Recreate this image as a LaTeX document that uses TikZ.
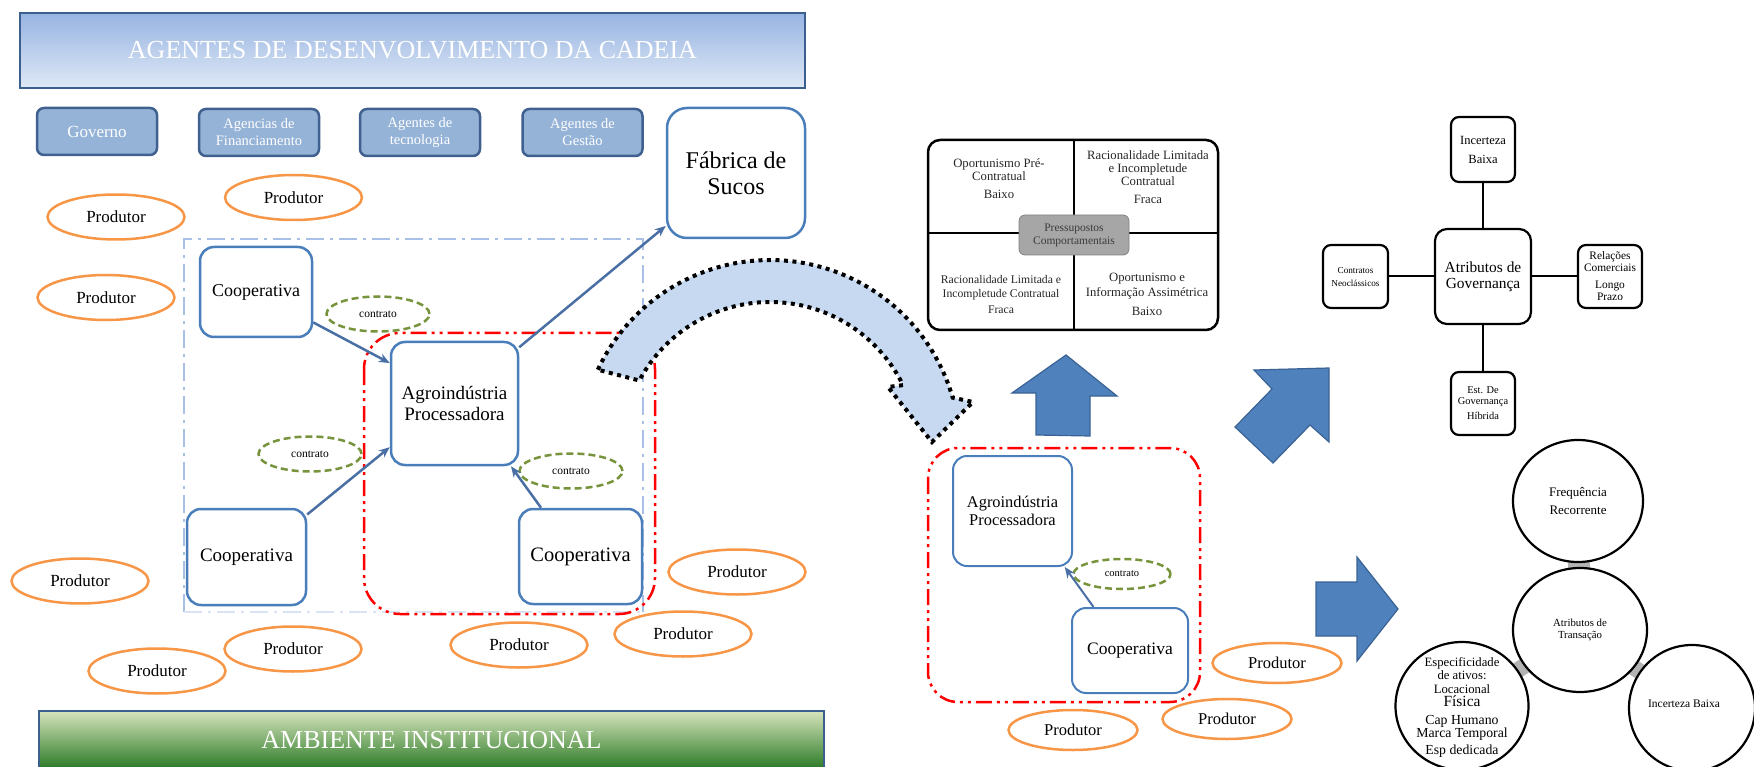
\documentclass[tikz,border=0pt]{standalone}
\usepackage{fontspec}
\setmainfont{Liberation Serif}
\usetikzlibrary{shapes.geometric,arrows.meta,backgrounds}
\newcommand\myfs[2]{\fontsize{#1}{#2}\selectfont}
\definecolor{bnborder}{HTML}{3B5F8F}
\definecolor{bntop}{HTML}{97B4E2}
\definecolor{bnbot}{HTML}{DFE8F5}
\definecolor{tbfill}{HTML}{95B3D7}
\definecolor{tbdraw}{HTML}{40618F}
\definecolor{bxdraw}{HTML}{4A7EBB}
\definecolor{orng}{HTML}{F79646}
\definecolor{olv}{HTML}{77933C}
\definecolor{cnn}{HTML}{4A6FA5}
\definecolor{ltblue}{HTML}{A9C0E6}
\definecolor{ltblueb}{HTML}{DAE3F3}
\definecolor{arwfill}{HTML}{4F81BD}
\definecolor{arwdraw}{HTML}{3A6294}
\definecolor{curvfill}{HTML}{C6D9F1}
\definecolor{grntop}{HTML}{D7E4BD}
\definecolor{grnbot}{HTML}{2A7A25}
\definecolor{qtext}{HTML}{262626}
\definecolor{grayarw}{HTML}{A6A6A6}
\definecolor{grayarwl}{HTML}{B4B4B4}
\tikzset{
 banner/.style={draw=bnborder, line width=2.5pt, text=white, inner sep=0pt, font=\myfs{26}{30}},
 topbox/.style={draw=tbdraw, fill=tbfill, line width=2.5pt, rounded corners=7pt, text=white, align=center, inner sep=0pt, minimum width=120pt, minimum height=47pt, font=\myfs{14.5}{17}},
 bluebox/.style={draw=bxdraw, fill=white, line width=2.5pt, rounded corners=14pt, align=center, inner sep=0pt},
 prod/.style={ellipse, draw=orng, fill=white, line width=2.5pt, inner sep=0pt, minimum width=137pt, minimum height=45pt, font=\myfs{17}{20}},
 prodr/.style={prod, minimum width=129pt, minimum height=40pt, font=\myfs{16.5}{19}},
 contr/.style={ellipse, draw=olv, fill=white, line width=2.5pt, dash pattern=on 7pt off 4pt, inner sep=0pt, minimum width=103pt, minimum height=35pt, font=\myfs{11.5}{13}},
 conn/.style={draw=cnn, line width=2.5pt, -{Stealth[length=11pt,width=9pt]}},
 reddd/.style={draw=red, line width=2.5pt, dash pattern=on 16pt off 5pt on 3pt off 5pt on 3pt off 5pt},
 bluedd/.style={draw=ltblue, line width=2.5pt, dash pattern=on 18pt off 6pt on 3pt off 6pt},
 govbox/.style={draw=black, line width=2.2pt, rounded corners=8pt, fill=white, align=center, inner sep=0pt, minimum width=64pt, minimum height=63pt},
 govline/.style={draw=black, line width=2pt},
 circ/.style={ellipse, draw=black, line width=2.2pt, fill=white, inner sep=0pt, minimum width=130pt, minimum height=122pt, align=center},
 bigarw/.style={fill=arwfill, draw=arwdraw, line width=1.2pt},
 qtxt/.style={align=center, inner sep=0pt, text=qtext, font=\myfs{12.7}{13}},
 grayconn/.style={draw=grayarwl, line width=16pt}
}
\begin{document}
\begin{tikzpicture}[x=1pt,y=-1pt]
\useasboundingbox (0,0) rectangle (1754,767);

% ---------- left part ----------
\node[banner, minimum width=785pt, minimum height=75pt, top color=bntop, bottom color=bnbot] (agentes) at (412.5,50.5) {AGENTES DE DESENVOLVIMENTO DA CADEIA};

\node[topbox, font=\myfs{17}{19}] (governo) at (97,131.5) {Governo};
\node[topbox] (agfin) at (259,132.5) {Agencias de\\Financiamento};
\node[topbox] (agtec) at (420,132.5) {Agentes de\\tecnologia};
\node[topbox] (agges) at (582.5,132.5) {Agentes de\\Gestão};

\node[bluebox, rounded corners=20pt, minimum width=138pt, minimum height=130pt, font=\myfs{24}{26}] (fabrica) at (736,173) {Fábrica de\\Sucos};

\draw[bluedd] (184,612) -- (184,239) -- (643,239) -- (643,612);
\draw[bluedd, draw=ltblueb] (184,612) -- (643,612);
\draw[reddd, rounded corners=36pt] (364,333) rectangle (655,614);

\node[prod] (prod1) at (116,217) {Produtor};
\node[prod] (prod2) at (293.5,197.5) {Produtor};
\node[prod] (prod3) at (106,297.5) {Produtor};
\node[prod] (prod4) at (80,581) {Produtor};
\node[prod] (prod5) at (157,671) {Produtor};
\node[prod] (prod6) at (293,649) {Produtor};
\node[prod] (prod7) at (519,645) {Produtor};
\node[prod] (prod8) at (683,634) {Produtor};
\node[prod] (prod9) at (737,572) {Produtor};

\node[bluebox, minimum width=112pt, minimum height=90pt, font=\myfs{18}{20}] (coopTL) at (256,292) {Cooperativa};
\node[bluebox, minimum width=127pt, minimum height=123pt, font=\myfs{19}{21}] (agro) at (454.5,403.5) {Agroindústria\\Processadora};
\node[bluebox, minimum width=119pt, minimum height=96pt, font=\myfs{19}{21}] (coopBL) at (246.5,557) {Cooperativa};
\node[bluebox, minimum width=123pt, minimum height=95pt, font=\myfs{20.5}{22}] (coopBR) at (580.5,556.5) {Cooperativa};

\node[contr] (c1) at (378,314) {contrato};
\node[contr] (c2) at (310,454) {contrato};
\node[contr] (c3) at (571,471) {contrato};

\draw[conn] (coopTL.-28) -- (agro.148);
\draw[conn] (coopBL.35) -- (agro.214);
\draw[conn] (coopBR.129) -- (agro.-48);
\draw[conn] (agro.41) -- (fabrica.217);

\node[banner, minimum width=785pt, minimum height=58pt, top color=grntop, bottom color=grnbot] (ambiente) at (431.5,740) {AMBIENTE INSTITUCIONAL};

% ---------- curved arrow ----------
\filldraw[fill=curvfill, draw=black, line width=4pt, dash pattern=on 4pt off 4.5pt, line join=miter]
  plot[domain=-155:-16, samples=60] ({770+190*cos(\x)}, {450+190*sin(\x)})
  -- (973,402) -- (932,442) -- (888,387)
  -- plot[domain=-26:-152, samples=60] ({770+148*cos(\x)}, {450+148*sin(\x)})
  -- cycle;

% ---------- middle part ----------
\node[draw=black, line width=2.5pt, rounded corners=12pt, minimum width=290pt, minimum height=190pt, inner sep=0pt] (press) at (1073,235) {};
\draw[line width=2.2pt] (1074,141) -- (1074,215);
\draw[line width=2.2pt] (1074,255) -- (1074,329);
\draw[line width=2.2pt] (929,233) -- (1019,233);
\draw[line width=2.2pt] (1129,233) -- (1217,233);
\node[fill=grayarw, draw=gray, line width=0.8pt, rounded corners=6pt, minimum width=110pt, minimum height=40pt, inner sep=0pt, text=qtext!90, align=center, font=\myfs{11.5}{13}] (pressC) at (1074,235) {Pressupostos\\Comportamentais};
\node[qtxt] (qTL) at (999,179) {Oportunismo Pré-\\Contratual\\[5pt]Baixo};
\node[qtxt] (qTR) at (1148,177) {Racionalidade Limitada\\e Incompletude\\Contratual\\[5pt]Fraca};
\node[qtxt, font=\myfs{11.7}{14}] (qBL) at (1001,294) {Racionalidade Limitada e\\Incompletude Contratual\\[2pt]Fraca};
\node[qtxt, font=\myfs{12.7}{15}] (qBR) at (1147,294) {Oportunismo e\\Informação Assimétrica\\[4pt]Baixo};

\draw[bigarw] (1066,355) -- (1117,396) -- (1090,396) -- (1090,436) -- (1036,435) -- (1036,393) -- (1012,393) -- cycle;
\draw[bigarw] (1329,368) -- (1329,442) -- (1310,425) -- (1273,463) -- (1235,427) -- (1272,389) -- (1254,370) -- cycle;
\draw[bigarw] (1316,582) -- (1357,582) -- (1357,557) -- (1398,609) -- (1357,661) -- (1357,636) -- (1316,636) -- cycle;

\draw[reddd, rounded corners=30pt] (928,448) rectangle (1200,702);
\node[bluebox, line width=2pt, minimum width=119pt, minimum height=110pt, font=\myfs{16.4}{18}] (agroR) at (1012.5,511) {Agroindústria\\Processadora};
\node[bluebox, line width=2pt, minimum width=116pt, minimum height=85pt, font=\myfs{17.5}{19}] (coopR) at (1130,650.5) {Cooperativa};
\node[contr, minimum width=97pt, minimum height=30pt, font=\myfs{10.5}{12}] (cR) at (1122,574) {contrato};
\draw[conn, line width=2pt] (coopR.130) -- (agroR.-47);
\node[prodr] (prod10) at (1277,663) {Produtor};
\node[prodr] (prod11) at (1227,719) {Produtor};
\node[prodr] (prod12) at (1073,730) {Produtor};

% ---------- governance ----------
\node[govbox, minimum height=65pt, font=\myfs{12.5}{14}] (incT) at (1483,149.5) {Incerteza\\[5pt]Baixa};
\node[govbox, rounded corners=12pt, minimum width=96pt, minimum height=95pt, font=\myfs{15.4}{16}] (attrG) at (1483,276.5) {Atributos de\\Governança};
\node[govbox, minimum width=65pt, font=\myfs{9.2}{13}] (contN) at (1355.5,276.5) {Contratos\\Neoclássicos};
\node[govbox, font=\myfs{11.4}{12}] (relC) at (1610,276.5) {Relações\\Comerciais\\[5pt]Longo\\Prazo};
\node[govbox, font=\myfs{10.4}{11}] (estG) at (1483,403.5) {Est. De\\Governança\\[4pt]Híbrida};
\draw[govline] (incT) -- (attrG);
\draw[govline] (attrG) -- (estG);
\draw[govline] (contN) -- (attrG);
\draw[govline] (attrG) -- (relC);

% ---------- transaction ----------
\node[circ, font=\myfs{13}{14}] (freq) at (1578,501) {Frequência\\[4pt]Recorrente};
\node[circ, minimum width=134pt, minimum height=124pt, font=\myfs{10.8}{12}] (attrT) at (1580,630) {Atributos de\\Transação};
\node[circ, minimum width=133pt, minimum height=128pt] (espec) at (1462,706) {};
\node[circ, minimum width=126pt, minimum height=126pt] (incB) at (1692,708) {};
\node[align=center, inner sep=0pt, font=\myfs{12.7}{13.5}] (especT) at (1462,707) {Especificidade\\de ativos:\\Locacional\\{\myfs{15.5}{13.5}Física}\\[4pt]{\myfs{13.8}{13.5}Cap Humano}\\{\myfs{13.8}{13.5}Marca Temporal}\\[3pt]{\myfs{13.8}{13.5}Esp dedicada}};
\node[inner sep=0pt, font=\myfs{11.5}{13}] (incBT) at (1684,704) {Incerteza Baixa};
\begin{pgfonlayer}{background}
\draw[grayconn, line width=22pt] (freq.center) -- (attrT.center);
\draw[grayconn] (attrT.center) -- (espec.center);
\draw[grayconn] (attrT.center) -- (incB.center);
\end{pgfonlayer}
\end{tikzpicture}
\end{document}
